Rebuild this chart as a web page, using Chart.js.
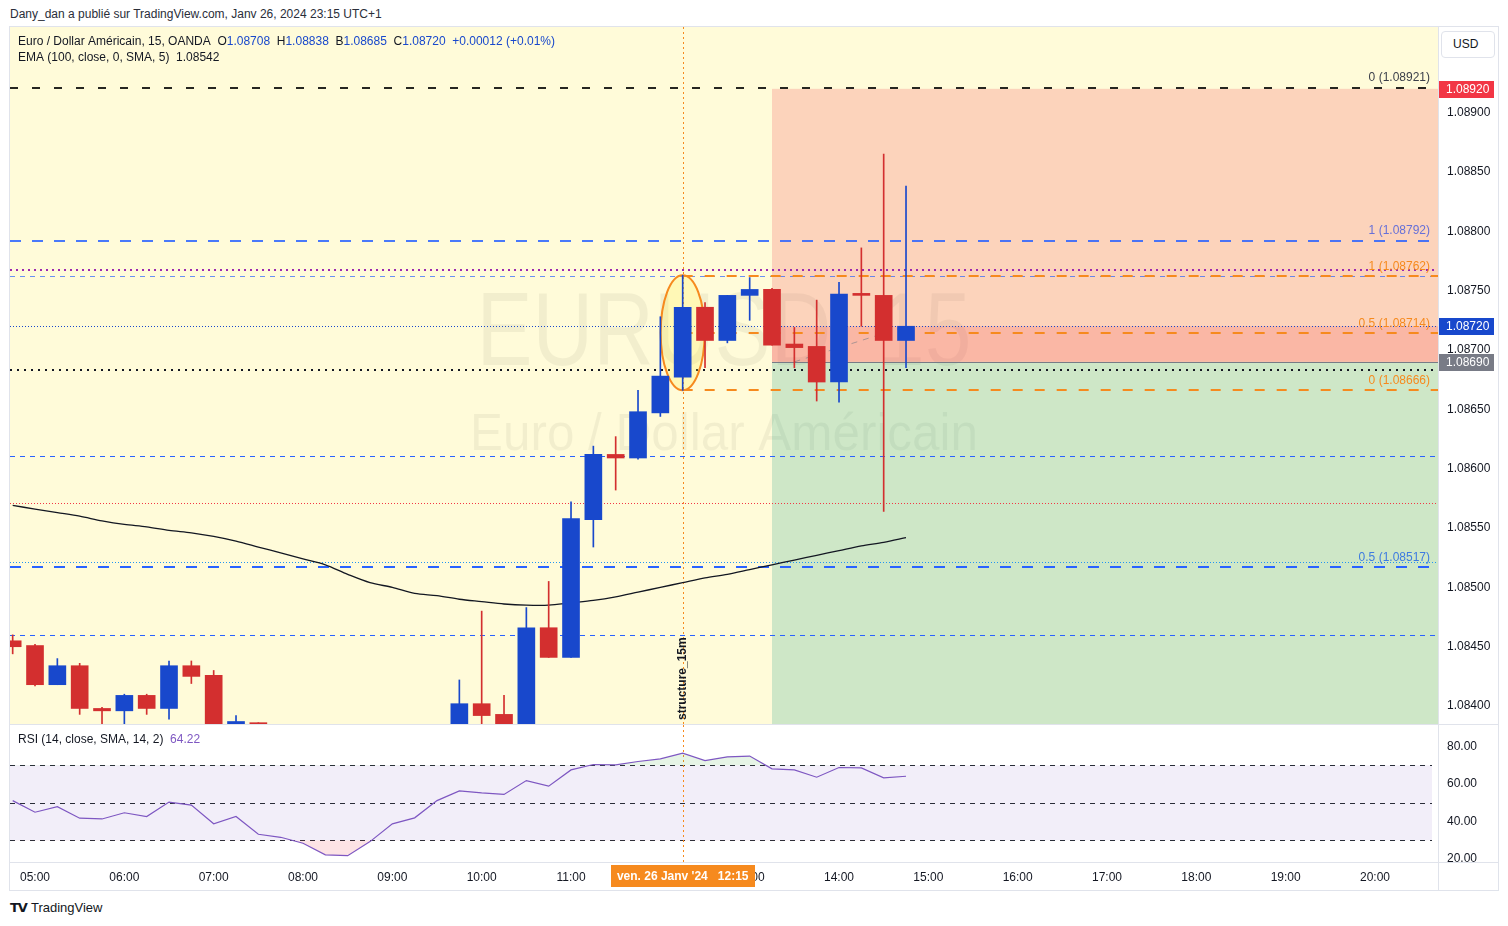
<!DOCTYPE html>
<html>
<head>
<meta charset="utf-8">
<script src="https://cdn.jsdelivr.net/npm/chart.js@4.4.1/dist/chart.umd.min.js"></script>
<style>
html,body{margin:0;padding:0;background:#fff;}
body{width:1508px;height:926px;position:relative;overflow:hidden;font-family:"Liberation Sans",Arial,sans-serif;color:#131722;}
.abs{position:absolute;}
#hdr{left:10px;top:7px;font-size:12px;color:#2a2e39;white-space:nowrap;}
#frame{left:9px;top:26px;width:1490px;height:865px;border:1px solid #e0e3eb;box-sizing:border-box;}
#mainc{left:10px;top:27px;}
#rsic{left:10px;top:725px;}
#sep1{left:10px;top:724px;width:1488px;height:1px;background:#e0e3eb;}
#sep2{left:10px;top:862px;width:1488px;height:1px;background:#e0e3eb;}
#vsep{left:1438px;top:27px;width:1px;height:863px;background:#e0e3eb;}
#usd{left:1441px;top:31px;width:54px;height:27px;border:1px solid #e0e3eb;border-radius:4px;box-sizing:border-box;font-size:12px;line-height:25px;padding-left:11px;background:#fff;}
#logo{left:10px;top:900px;font-size:13px;color:#131722;white-space:nowrap;}
#logo b{font-family:"DejaVu Sans",sans-serif;font-weight:900;font-size:13px;letter-spacing:-1px;margin-right:4px;}
</style>
</head>
<body>
<div id="hdr" class="abs">Dany_dan a publié sur TradingView.com, Janv 26, 2024 23:15 UTC+1</div>
<canvas id="mainc" class="abs" width="1488" height="697"></canvas>
<canvas id="rsic" class="abs" width="1488" height="165"></canvas>
<div id="frame" class="abs"></div>
<div id="sep1" class="abs"></div>
<div id="sep2" class="abs"></div>
<div id="vsep" class="abs"></div>
<div id="usd" class="abs">USD</div>
<div id="logo" class="abs"><b>TV</b>TradingView</div>
<script>
// ---------------- DATA ----------------
const times = ['04:45','05:00','05:15','05:30','05:45','06:00','06:15','06:30','06:45','07:00',
  '07:15','07:30','07:45','08:00','08:15','08:30','08:45','09:00','09:15','09:30',
  '09:45','10:00','10:15','10:30','10:45','11:00','11:15','11:30','11:45','12:00',
  '12:15','12:30','12:45','13:00','13:15','13:30','13:45','14:00','14:15','14:30','14:45'];
const opens  = [1.08455,1.08451,1.08418,1.08434,1.08398,1.08396,1.08409,1.08398,1.08434,1.08426,
  1.08368,1.08386,null,null,null,null,null,null,null,null,
  1.08372,1.08402,1.08393,1.08376,1.08466,1.08441,1.08557,1.08612,1.08609,1.08647,
  1.08677,1.08736,1.08708,1.08746,1.08751,1.08705,1.08703,1.08673,1.08747,1.08746,1.08708];
const highs  = [1.08460,1.08452,1.08440,1.08436,1.08399,1.08410,1.08410,1.08438,1.08438,1.08430,
  1.08392,1.08386,null,null,null,null,null,null,null,null,
  1.08422,1.08480,1.08409,1.08483,1.08505,1.08572,1.08619,1.08627,1.08666,1.08728,
  1.08763,1.08740,1.08746,1.08761,1.08752,1.08719,1.08742,1.08757,1.08786,1.08865,1.08838];
const lows   = [1.08444,1.08417,1.08418,1.08393,1.08380,1.08380,1.08393,1.08389,1.08419,1.08362,
  1.08362,1.08350,null,null,null,null,null,null,null,null,
  1.08368,1.08380,1.08370,1.08372,1.08441,1.08441,1.08534,1.08582,1.08608,1.08644,
  1.08666,1.08685,1.08706,1.08725,1.08704,1.08685,1.08657,1.08656,1.08720,1.08564,1.08685];
const closes = [1.08450,1.08418,1.08434,1.08398,1.08396,1.08409,1.08398,1.08434,1.08425,1.08368,
  1.08387,1.08360,null,null,null,null,null,null,null,null,
  1.08402,1.08392,1.08376,1.08466,1.08441,1.08558,1.08612,1.08609,1.08648,1.08678,
  1.08736,1.08708,1.08746,1.08751,1.08704,1.08702,1.08673,1.08747,1.08746,1.08708,1.08720];
const emaValues = [1.08569,1.08566,1.08563,1.08560,1.08556,1.08553,1.08551,1.08548,1.08546,1.08543,
  1.08539,1.08534,1.08529,1.08524,1.08519,1.08511,1.08504,1.08500,1.08495,1.08493,
  1.08490,1.08488,1.08486,1.08485,1.08485,1.08487,1.08489,1.08492,1.08496,1.08500,
  1.08504,1.08508,1.08511,1.08515,1.08519,1.08523,1.08527,1.08531,1.08535,1.08538,1.08542];
const rsiValues = [51.2,45.0,48.0,41.8,41.4,44.7,42.7,50.4,48.8,38.8,
  42.7,33.2,31.6,28.4,22.2,21.8,29.3,38.8,42.0,51.2,
  56.4,55.3,54.5,61.9,58.9,67.6,70.5,70.3,72.1,73.5,
  76.6,72.6,74.6,75.0,68.2,67.6,63.7,68.9,68.7,63.4,64.22];
const hourLabels = ['05:00','06:00','07:00','08:00','09:00','10:00','11:00','12:00','13:00',
  '14:00','15:00','16:00','17:00','18:00','19:00','20:00'];
const priceTicks = [1.0840,1.0845,1.0850,1.0855,1.0860,1.0865,1.0870,1.0875,1.0880,1.0885,1.0890];
const rsiTicks = [20,40,60,80];
const rsiLevels = [70,50,30];
const levelPrices = [1.08921,1.08792,1.08767,1.08762,1.08762,1.08720,1.08714,1.08683,1.08666,
  1.08611,1.08571,1.08521,1.08517,1.08460];
const fibTexts  = ['0 (1.08921)','1 (1.08792)','1 (1.08762)','0.5 (1.08714)','0 (1.08666)','0.5 (1.08517)'];
const fibPrices = [1.08921,1.08792,1.08762,1.08714,1.08666,1.08517];
const positionStop = 1.08920, positionEntry = 1.08690, positionTarget = 1.08300;
const positionStartTime = '13:15';
const crosshairTime = '12:15';
const crosshairLabel = "ven. 26 Janv '24   12:15";
const priceMin = 1.083849, priceMax = 1.089721;
const rsiMin = 18.4, rsiMax = 91.6;
const xMin = -0.12, xMax = 63.82;

// ---------------- HELPERS ----------------
const FONT = '"Liberation Sans", Arial, sans-serif';
Chart.defaults.font.family = FONT;
Chart.defaults.font.size = 12;
Chart.defaults.color = '#131722';
const t0 = 4*60+45;
const tIdx = t => { const [h,m] = t.split(':').map(Number); return (h*60+m-t0)/15; };
const BLUE = '#1848cc', RED = '#d32f2f', ORANGE = '#f68a1e';
const idxAll = times.map((t,i)=>i).filter(i=>opens[i]!==null);
const candleColor = i => closes[i] >= opens[i] ? BLUE : RED;
const last = times.length-1;

const levelStyles = [
  {c:'rgba(0,0,0,0.85)', w:2, d:[8,14]},
  {c:'rgba(41,98,255,0.85)', w:2, d:[11,11]},
  {c:'#9c27b0', w:2, d:[2,4]},
  {c:'rgba(41,98,255,0.7)', w:1, d:[5,5]},
  {c:ORANGE, w:2, d:[10,12], from:crosshairTime},
  {c:BLUE, w:1, d:[1,2]},
  {c:ORANGE, w:2, d:[10,12], from:crosshairTime},
  {c:'#131722', w:2, d:[2,5]},
  {c:ORANGE, w:2, d:[10,12], from:crosshairTime},
  {c:'#2962ff', w:1, d:[5,5]},
  {c:'#f23645', w:1, d:[1,2]},
  {c:'#2196f3', w:1, d:[1,2]},
  {c:'#2962ff', w:2, d:[11,11]},
  {c:'#2962ff', w:1, d:[5,5]}
];
const fibColors = ['#3b3f4a','#6670d8',ORANGE,ORANGE,ORANGE,'#3d7be0'];

function drawFit(ctx, text, cx, by, font, target){
  ctx.font = font;
  const w = ctx.measureText(text).width;
  ctx.save(); ctx.translate(cx, by); ctx.scale(target/w, 1);
  ctx.textAlign = 'center'; ctx.fillText(text, 0, 0); ctx.restore();
}
function hline(ctx, x1, x2, y){ ctx.beginPath(); ctx.moveTo(x1,y); ctx.lineTo(x2,y); ctx.stroke(); }
function drawSegs(ctx, segs, x, y){
  for (const [t,c] of segs){ ctx.fillStyle=c; ctx.fillText(t,x,y); x += ctx.measureText(t).width; }
}
function fixV(scale){ scale.width = 60; scale.paddingTop = 0; scale.paddingBottom = 0; }

// ---------------- MAIN CHART ----------------
const mainPlugin = {
  id:'mainDecor',
  beforeDatasetsDraw(chart){
    const {ctx, chartArea:a, scales:{x,y}} = chart;
    ctx.save();
    ctx.beginPath(); ctx.rect(a.left,a.top,a.width,a.height); ctx.clip();
    ctx.fillStyle = '#fffbd9'; ctx.fillRect(a.left,a.top,a.width,a.height);
    // watermark
    const cx = (a.left+a.right)/2;
    ctx.fillStyle = 'rgba(0,0,0,0.05)'; ctx.textBaseline = 'alphabetic';
    drawFit(ctx, 'EURUSD, 15', cx, a.top+338, '104px '+FONT, 495);
    drawFit(ctx, 'Euro / Dollar Américain', cx, a.top+423, '52px '+FONT, 508);
    // position zones
    const px0 = x.getPixelForValue(tIdx(positionStartTime));
    const yS = y.getPixelForValue(positionStop), yE = y.getPixelForValue(positionEntry);
    const yC = y.getPixelForValue(closes[last]), yT = y.getPixelForValue(positionTarget);
    ctx.fillStyle = 'rgba(242,54,69,0.2)'; ctx.fillRect(px0, yS, a.right-px0, yE-yS);
    ctx.fillStyle = 'rgba(242,54,69,0.18)'; ctx.fillRect(px0, yC, a.right-px0, yE-yC);
    ctx.fillStyle = 'rgba(8,153,129,0.2)'; ctx.fillRect(px0, yE, a.right-px0, yT-yE);
    ctx.strokeStyle = '#787b86'; ctx.lineWidth = 1; ctx.setLineDash([]);
    hline(ctx, px0, a.right, Math.round(yE)+0.5);
    // horizontal levels
    levelPrices.forEach((p,k)=>{
      const s = levelStyles[k];
      const yy = Math.round(y.getPixelForValue(p)) + (s.w%2 ? 0.5 : 0);
      const x1 = s.from ? x.getPixelForValue(tIdx(s.from)) : a.left;
      ctx.strokeStyle = s.c; ctx.lineWidth = s.w; ctx.setLineDash(s.d);
      hline(ctx, x1, a.right, yy);
    });
    // diagonal dashed (entry -> current)
    ctx.strokeStyle = 'rgba(120,123,134,0.6)'; ctx.lineWidth = 1; ctx.setLineDash([6,6]);
    ctx.beginPath();
    ctx.moveTo(x.getPixelForValue(tIdx(positionStartTime)+1), yE);
    ctx.lineTo(x.getPixelForValue(last), yC);
    ctx.stroke();
    // crosshair
    const ci = tIdx(crosshairTime);
    const cxp = Math.round(x.getPixelForValue(ci))+0.5;
    ctx.strokeStyle = ORANGE; ctx.lineWidth = 1; ctx.setLineDash([2,3]);
    ctx.beginPath(); ctx.moveTo(cxp, a.top); ctx.lineTo(cxp, a.bottom); ctx.stroke();
    // ellipse around crosshair candle
    const eyT = y.getPixelForValue(highs[ci]), eyB = y.getPixelForValue(lows[ci]);
    ctx.setLineDash([]);
    ctx.beginPath();
    ctx.ellipse(x.getPixelForValue(ci), (eyT+eyB)/2, 22, (eyB-eyT)/2, 0, 0, Math.PI*2);
    ctx.fillStyle = 'rgba(255,235,59,0.22)'; ctx.fill();
    ctx.strokeStyle = ORANGE; ctx.lineWidth = 2; ctx.stroke();
    ctx.restore();
  },
  afterDatasetsDraw(chart){
    const {ctx, chartArea:a, scales:{x,y}} = chart;
    ctx.save();
    // structure_15m vertical text
    ctx.translate(x.getPixelForValue(tIdx(crosshairTime)), a.bottom-4);
    ctx.rotate(-Math.PI/2);
    ctx.font = 'bold 12px '+FONT; ctx.fillStyle = '#131722';
    ctx.textAlign = 'left'; ctx.textBaseline = 'middle';
    ctx.fillText('structure_15m', 0, 0);
    ctx.restore();
    // fib labels
    ctx.save();
    ctx.font = '12px '+FONT; ctx.textAlign = 'right'; ctx.textBaseline = 'middle';
    fibPrices.forEach((p,k)=>{
      ctx.fillStyle = fibColors[k];
      ctx.fillText(fibTexts[k], a.right-8, y.getPixelForValue(p)-10);
    });
    ctx.restore();
  },
  afterDraw(chart){
    const {ctx, chartArea:a, scales:{y}} = chart;
    ctx.save();
    // price tags on axis
    const tags = [[positionStop,'#f23645'],[closes[last],BLUE],[positionEntry,'#787b86']];
    ctx.textBaseline = 'middle'; ctx.textAlign = 'left';
    tags.forEach(([p,c])=>{
      const yy = Math.round(y.getPixelForValue(p));
      ctx.fillStyle = c; ctx.fillRect(a.right, yy-8, 56, 17);
      ctx.fillStyle = '#fff'; ctx.font = '12px '+FONT;
      ctx.fillText(p.toFixed(5), a.right+8, yy+0.5);
    });
    // legend
    ctx.font = '12px '+FONT;
    const chg = closes[last]-closes[last-1];
    const pct = chg/closes[last-1]*100;
    const sg = v => (v>=0?'+':'');
    const D = '#131722';
    drawSegs(ctx, [
      ['Euro / Dollar Américain, 15, OANDA  ', D],
      ['O', D], [opens[last].toFixed(5), BLUE],
      ['  H', D], [highs[last].toFixed(5), BLUE],
      ['  B', D], [lows[last].toFixed(5), BLUE],
      ['  C', D], [closes[last].toFixed(5), BLUE],
      ['  '+sg(chg)+chg.toFixed(5)+' ('+sg(pct)+pct.toFixed(2)+'%)', BLUE]
    ], a.left+8, a.top+15);
    drawSegs(ctx, [['EMA (100, close, 0, SMA, 5)  ', D], [emaValues[last].toFixed(5), D]], a.left+8, a.top+31);
    ctx.restore();
  }
};

new Chart(document.getElementById('mainc'), {
  type:'bar',
  data:{
    datasets:[
      { type:'line', label:'EMA', data: emaValues.map((v,i)=>({x:i,y:v})),
        borderColor:'#131722', borderWidth:1.3, pointRadius:0, fill:false, tension:0.3, order:3 },
      { label:'wick', data: idxAll.map(i=>({x:i,y:[lows[i],highs[i]]})),
        backgroundColor: idxAll.map(candleColor), barThickness:1, grouped:false, order:2 },
      { label:'body', data: idxAll.map(i=>({x:i,y:[opens[i],closes[i]]})),
        backgroundColor: idxAll.map(candleColor), barThickness:17, minBarLength:2, grouped:false, order:1 }
    ]
  },
  options:{
    responsive:false, animation:false, devicePixelRatio:1, events:[],
    layout:{padding:0},
    plugins:{legend:{display:false}, tooltip:{enabled:false}},
    scales:{
      x:{ type:'linear', min:xMin, max:xMax, offset:false, display:false },
      y:{ type:'linear', position:'right', min:priceMin, max:priceMax,
          grid:{display:false, drawTicks:false}, border:{display:false},
          afterBuildTicks: s => { s.ticks = priceTicks.map(v=>({value:v})); },
          afterFit: fixV,
          ticks:{ padding:9, color:'#131722', callback: v => Number(v).toFixed(5) } }
    }
  },
  plugins:[mainPlugin]
});

// ---------------- RSI CHART ----------------
const rsiPlugin = {
  id:'rsiDecor',
  beforeDatasetsDraw(chart){
    const {ctx, chartArea:a, scales:{x,y}} = chart;
    ctx.save();
    ctx.beginPath(); ctx.rect(a.left,a.top,a.width,a.height); ctx.clip();
    const y70 = y.getPixelForValue(rsiLevels[0]), y30 = y.getPixelForValue(rsiLevels[2]);
    ctx.fillStyle = 'rgba(126,87,194,0.1)'; ctx.fillRect(a.left, y70, a.width-6, y30-y70);
    ctx.strokeStyle = 'rgba(19,23,34,0.9)'; ctx.lineWidth = 1; ctx.setLineDash([5,5]);
    rsiLevels.forEach(v=> hline(ctx, a.left, a.right-6, Math.round(y.getPixelForValue(v))+0.5));
    const cxp = Math.round(x.getPixelForValue(tIdx(crosshairTime)))+0.5;
    ctx.strokeStyle = ORANGE; ctx.setLineDash([2,3]);
    ctx.beginPath(); ctx.moveTo(cxp, a.top); ctx.lineTo(cxp, a.bottom); ctx.stroke();
    ctx.restore();
  },
  afterDraw(chart){
    const {ctx, chartArea:a, scales:{x}} = chart;
    ctx.save();
    ctx.font = '12px '+FONT; ctx.textBaseline = 'middle'; ctx.textAlign = 'left';
    drawSegs(ctx, [['RSI (14, close, SMA, 14, 2)  ', '#131722'], [rsiValues[last].toFixed(2), '#7e57c2']], a.left+8, a.top+15);
    // crosshair time label
    const cx = x.getPixelForValue(tIdx(crosshairTime));
    ctx.fillStyle = ORANGE; ctx.fillRect(Math.round(cx-72), a.bottom+3, 144, 22);
    ctx.fillStyle = '#fff'; ctx.textAlign = 'center'; ctx.font = 'bold 12px '+FONT;
    ctx.fillText(crosshairLabel, cx, a.bottom+14.5);
    ctx.restore();
  }
};

new Chart(document.getElementById('rsic'), {
  type:'line',
  data:{
    datasets:[
      { label:'RSI', data: rsiValues.map((v,i)=>({x:i,y:v})), borderColor:'#7e57c2', borderWidth:1.2,
        pointRadius:0, fill:false, order:0 },
      { label:'ob', data: rsiValues.map((v,i)=>({x:i,y:v})), borderWidth:0, pointRadius:0,
        fill:{target:{value:70}, above:'rgba(76,175,80,0.14)', below:'rgba(0,0,0,0)'}, order:1 },
      { label:'os', data: rsiValues.map((v,i)=>({x:i,y:v})), borderWidth:0, pointRadius:0,
        fill:{target:{value:30}, above:'rgba(0,0,0,0)', below:'rgba(242,54,69,0.14)'}, order:2 }
    ]
  },
  options:{
    responsive:false, animation:false, devicePixelRatio:1, events:[],
    layout:{padding:0},
    plugins:{legend:{display:false}, tooltip:{enabled:false}},
    scales:{
      x:{ type:'linear', position:'bottom', min:xMin, max:xMax, offset:false,
          grid:{display:false, drawTicks:false}, border:{display:false},
          afterBuildTicks: s => { s.ticks = hourLabels.map(h=>({value:tIdx(h)})); },
          afterFit: s => { s.height = 28; s.paddingLeft = 0; s.paddingRight = 0; },
          ticks:{ autoSkip:false, maxRotation:0, padding:8, color:'#131722',
                  callback: v => { const k = hourLabels.findIndex(h=>tIdx(h)===v); return k>=0 ? hourLabels[k] : ''; } } },
      y:{ type:'linear', position:'right', min:rsiMin, max:rsiMax,
          grid:{display:false, drawTicks:false}, border:{display:false},
          afterBuildTicks: s => { s.ticks = rsiTicks.map(v=>({value:v})); },
          afterFit: fixV,
          ticks:{ padding:9, color:'#131722', callback: v => Number(v).toFixed(2) } }
    }
  },
  plugins:[rsiPlugin]
});
</script>
</body>
</html>
